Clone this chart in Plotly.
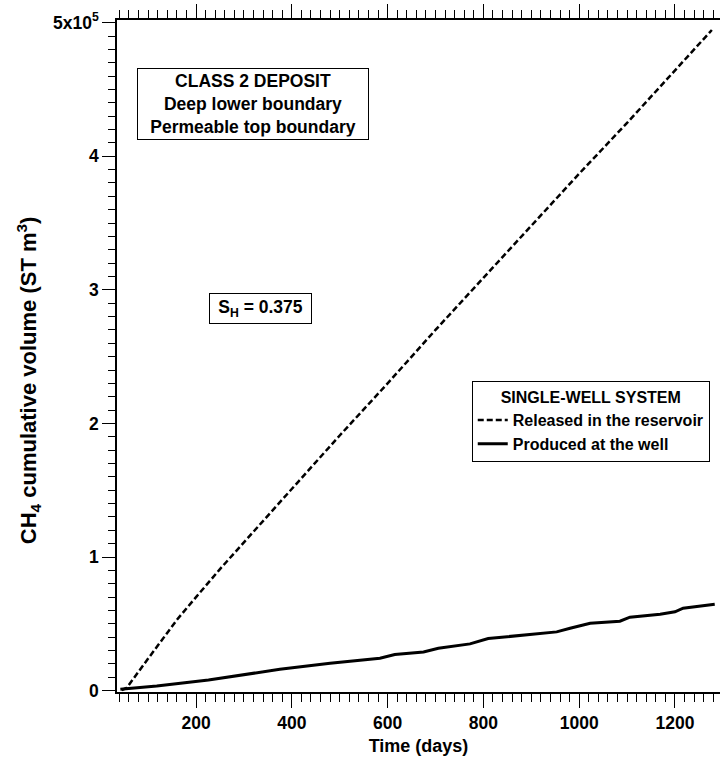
import plotly.graph_objects as go

# ---- data ----
rel_t = [45, 55, 100, 160, 200, 250, 300, 400, 500, 600, 700, 800, 900, 1000, 1100, 1200, 1277]
rel_v = [500, 2000, 24000, 53000, 70000, 91000, 111000, 151000, 191000, 230000, 270000,
         309000, 348000, 387000, 425000, 464000, 494500]

prod_t = [42, 118, 226, 298, 375, 480, 584, 615, 675, 706, 772, 810, 890, 953, 981,
          1023, 1085, 1106, 1169, 1200, 1217, 1283]
prod_v = [1000, 3500, 8000, 11800, 16000, 20500, 24300, 27000, 29000, 31700, 35000, 39000,
          41700, 44000, 46700, 50500, 52000, 55000, 57200, 59000, 61700, 64700]

y_tickvals = [0, 100000, 200000, 300000, 400000, 500000]
y_ticktext = ["0", "1", "2", "3", "4", "5x10<sup>5</sup>"]
x_mid_ticks = [100, 300, 500, 700, 900, 1100, 1300]
y_mid_ticks = [50000, 150000, 250000, 350000, 450000]

FONT = "Liberation Sans, Arial, sans-serif"
X_RANGE = [35, 1294]
Y_RANGE = [-1000, 502000]

fig = go.Figure()
fig.add_trace(go.Scatter(x=rel_t, y=rel_v, mode="lines", name="Released in the reservoir",
                         line=dict(color="black", width=2.5, dash="6px,3px")))
fig.add_trace(go.Scatter(x=prod_t, y=prod_v, mode="lines", name="Produced at the well",
                         line=dict(color="black", width=3)))

tickfont = dict(family=FONT, size=17.5, color="black", weight="bold")

fig.update_layout(
    width=720, height=764,
    margin=dict(l=117, r=0, t=20, b=72),
    paper_bgcolor="white", plot_bgcolor="white",
    showlegend=True,
    legend=dict(
        x=0.983, y=0.342, xanchor="right", yanchor="bottom",
        bgcolor="white", bordercolor="black", borderwidth=1,
        font=dict(family=FONT, size=16, color="black", weight="bold"),
        title=dict(text="SINGLE-WELL SYSTEM", side="top center",
                   font=dict(family=FONT, size=16, color="black", weight="bold")),
        tracegroupgap=0,
    ),
    xaxis=dict(
        range=X_RANGE, showgrid=False, zeroline=False,
        showline=True, linecolor="black", linewidth=1.5, mirror="ticks",
        ticks="outside", tick0=0, dtick=200, ticklen=14, tickwidth=1.3, tickcolor="black",
        tickfont=tickfont,
        minor=dict(ticks="outside", tick0=0, dtick=20, ticklen=8, tickwidth=1.3, tickcolor="black"),
        title=dict(text="Time (days)", font=dict(family=FONT, size=18, color="black", weight="bold"),
                   standoff=8),
    ),
    xaxis2=dict(
        range=X_RANGE, overlaying="x", anchor="y", side="bottom",
        showgrid=False, zeroline=False, showline=False, mirror="ticks",
        ticks="outside", tickvals=x_mid_ticks, ticklen=11, tickwidth=1.3, tickcolor="black",
        showticklabels=False,
    ),
    yaxis=dict(
        range=Y_RANGE, showgrid=False, zeroline=False,
        showline=True, linecolor="black", linewidth=1.5, mirror=False,
        ticks="outside", tickvals=y_tickvals, ticktext=y_ticktext, ticklen=13, tickwidth=1.3,
        tickcolor="black", tickfont=tickfont,
        minor=dict(ticks="outside", tick0=0, dtick=10000, ticklen=7, tickwidth=1.3, tickcolor="black"),
    ),
    yaxis2=dict(
        range=Y_RANGE, overlaying="y", anchor="x", side="left",
        showgrid=False, zeroline=False, showline=False,
        ticks="outside", tickvals=y_mid_ticks, ticklen=10, tickwidth=1.3, tickcolor="black",
        showticklabels=False,
    ),
)

annfont = dict(family=FONT, size=17.5, color="black", weight="bold")
fig.add_annotation(
    xref="paper", yref="paper", x=0.2255, y=0.8757, xanchor="center", yanchor="middle",
    text="CLASS 2 DEPOSIT<br>Deep lower boundary<br>Permeable top boundary",
    showarrow=False, font=annfont, align="center", width=226,
    bordercolor="black", borderwidth=1, borderpad=2, bgcolor="white",
)
fig.add_annotation(
    xref="paper", yref="paper", x=0.238, y=0.570, xanchor="center", yanchor="middle",
    text="S<sub>H</sub> = 0.375", width=95, align="center",
    showarrow=False, font=dict(family=FONT, size=17.5, color="black", weight="bold"),
    bordercolor="black", borderwidth=1, borderpad=3, bgcolor="white",
)
fig.add_annotation(
    xref="paper", yref="paper", x=-0.1476, y=0.464, xanchor="center", yanchor="middle",
    text="CH<sub>4</sub> cumulative volume (ST m<sup>3</sup>)", textangle=-90,
    showarrow=False, font=dict(family=FONT, size=22, color="black", weight="bold"),
)

fig.write_html("out.html")
